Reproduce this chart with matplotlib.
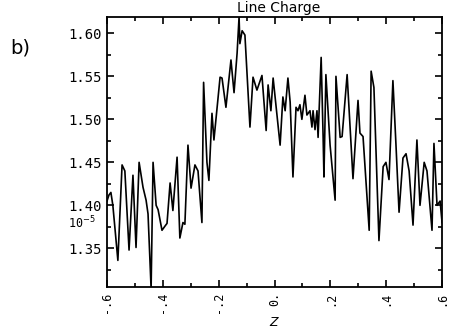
import matplotlib
matplotlib.use("Agg")
import matplotlib.pyplot as plt
from matplotlib.ticker import MultipleLocator, FixedLocator, FixedFormatter

# line charge along z (values in units of 1e-5)
z = [-0.600, -0.593, -0.586, -0.579, -0.561, -0.546, -0.536, -0.521, -0.507, -0.496,
     -0.485, -0.471, -0.460, -0.453, -0.442, -0.435, -0.424, -0.417, -0.403, -0.392,
     -0.385, -0.374, -0.364, -0.349, -0.339, -0.328, -0.321, -0.310, -0.299, -0.285,
     -0.274, -0.260, -0.254, -0.242, -0.235, -0.224, -0.217, -0.195, -0.188, -0.174,
     -0.156, -0.145, -0.134, -0.127, -0.124, -0.116, -0.106, -0.088, -0.077, -0.063,
     -0.045, -0.030, -0.023, -0.013, -0.005, 0.020, 0.030, 0.038, 0.048, 0.056,
     0.066, 0.077, 0.084, 0.091, 0.098, 0.109, 0.116, 0.127, 0.134, 0.138,
     0.145, 0.152, 0.156, 0.167, 0.174, 0.177, 0.184, 0.199, 0.217, 0.220,
     0.235, 0.242, 0.260, 0.281, 0.299, 0.306, 0.317, 0.339, 0.346, 0.356,
     0.374, 0.389, 0.399, 0.410, 0.424, 0.435, 0.446, 0.460, 0.471, 0.482,
     0.496, 0.510, 0.521, 0.536, 0.546, 0.564, 0.571, 0.582, 0.593, 0.600]
charge = [1.405, 1.412, 1.415, 1.400, 1.336, 1.447, 1.440, 1.348, 1.435, 1.351,
          1.450, 1.421, 1.406, 1.390, 1.303, 1.450, 1.400, 1.395, 1.371, 1.376,
          1.379, 1.426, 1.394, 1.456, 1.362, 1.380, 1.378, 1.470, 1.420, 1.447,
          1.440, 1.380, 1.543, 1.450, 1.429, 1.507, 1.476, 1.549, 1.548, 1.514,
          1.569, 1.531, 1.577, 1.619, 1.588, 1.603, 1.598, 1.491, 1.549, 1.534,
          1.551, 1.487, 1.540, 1.510, 1.548, 1.470, 1.526, 1.510, 1.548, 1.520,
          1.433, 1.514, 1.510, 1.517, 1.500, 1.528, 1.505, 1.510, 1.491, 1.510,
          1.488, 1.510, 1.479, 1.572, 1.480, 1.433, 1.552, 1.470, 1.406, 1.550,
          1.479, 1.480, 1.552, 1.431, 1.522, 1.484, 1.480, 1.371, 1.556, 1.537,
          1.359, 1.445, 1.450, 1.430, 1.545, 1.470, 1.392, 1.455, 1.460, 1.440,
          1.377, 1.476, 1.400, 1.450, 1.440, 1.371, 1.472, 1.400, 1.405, 1.380]

xticks = [-0.6, -0.4, -0.2, 0.0, 0.2, 0.4, 0.6]
xticklabels = ["-.6", "-.4", "-.2", "0.", ".2", ".4", ".6"]
yticks = [1.35, 1.40, 1.45, 1.50, 1.55, 1.60]
yticklabels = ["1.35", "1.40", "1.45", "1.50", "1.55", "1.60"]

fig = plt.figure(figsize=(4.52, 3.33), dpi=100)
ax = fig.add_axes([0.2367, 0.138, 0.7413, 0.811])
ax.plot(z, charge, color="black", linewidth=1.2)
ax.set_xlim(-0.6, 0.6)
ax.set_ylim(1.305, 1.619)

ax.xaxis.set_major_locator(FixedLocator(xticks))
ax.xaxis.set_major_formatter(FixedFormatter(xticklabels))
ax.xaxis.set_minor_locator(MultipleLocator(0.1))
ax.yaxis.set_major_locator(FixedLocator(yticks))
ax.yaxis.set_major_formatter(FixedFormatter(yticklabels))
ax.yaxis.set_minor_locator(MultipleLocator(0.025))
ax.tick_params(which="both", direction="in", top=True, right=True, width=1.2)
ax.tick_params(which="major", length=5)
ax.tick_params(which="minor", length=3)
for lab in ax.get_xticklabels():
    lab.set_rotation(90)
    lab.set_family("DejaVu Sans Mono")
    lab.set_fontsize(8.5)
for lab in ax.get_yticklabels():
    lab.set_family("DejaVu Sans Mono")
    lab.set_fontsize(10)
for sp in ax.spines.values():
    sp.set_linewidth(1.3)

fig.text(0.617, 0.975, "Line Charge", ha="center", va="center", fontsize=10)
fig.text(0.606, 0.032, "Z", ha="center", va="center", fontsize=9, style="italic")
fig.text(0.150, 0.330, "10$^{-5}$", ha="left", va="center", fontsize=8.5,
         family="DejaVu Sans Mono")
fig.text(0.022, 0.855, "b)", ha="left", va="center", fontsize=14)

fig.savefig("out.png", dpi=100)
